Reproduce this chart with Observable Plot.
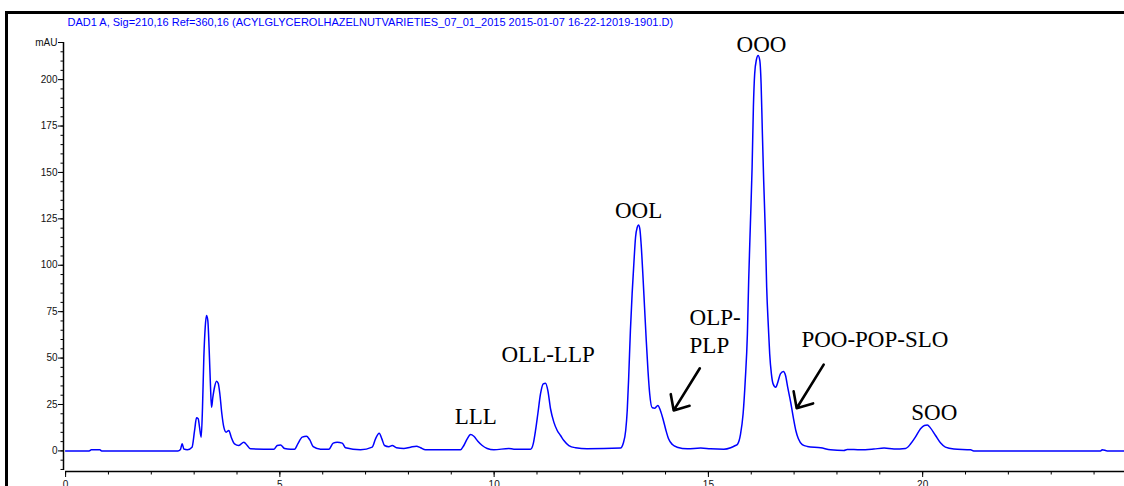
<!DOCTYPE html>
<html>
<head>
<meta charset="utf-8">
<script src="https://cdn.jsdelivr.net/npm/d3@7"></script>
<script src="https://cdn.jsdelivr.net/npm/@observablehq/plot@0.6"></script>
<style>
html, body { margin: 0; padding: 0; background: #fff; overflow: hidden; width: 1124px; height: 486px; }
#chart { position: absolute; left: 0; top: 0; width: 1160px; }
#chart svg { max-width: none !important; width: 1160px; height: 486px; }
#frame { position: absolute; left: 5px; top: 11px; width: 2000px; height: 1000px;
  border-top: 3px solid #000; border-left: 3px solid #000; pointer-events: none; }
</style>
</head>
<body>
<div id="chart"></div>
<div id="frame"></div>
<script>
const title = "DAD1 A, Sig=210,16 Ref=360,16 (ACYLGLYCEROLHAZELNUTVARIETIES_07_01_2015 2015-01-07 16-22-12019-1901.D)";

// retention time (min)
const retentionTime = [
  0, 0.55, 0.60, 0.80, 0.84, 2.62, 2.68, 2.72, 2.76, 2.84, 2.95, 3.01, 3.055, 3.094, 3.125, 3.164,
  3.195, 3.226, 3.258, 3.288, 3.319, 3.351, 3.382, 3.405, 3.436, 3.475, 3.522, 3.561, 3.599, 3.646,
  3.692, 3.747, 3.809, 3.865, 3.942, 4.043, 4.159, 4.238, 4.315, 4.859, 4.938, 5.015, 5.109, 5.249,
  5.342, 5.419, 5.521, 5.622, 5.699, 5.778, 5.949, 6.143, 6.245, 6.338, 6.455, 6.532, 6.882, 7.155,
  7.232, 7.318, 7.380, 7.442, 7.543, 7.622, 7.722, 7.893, 8.049, 8.189, 8.282, 8.399, 9.216, 9.293,
  9.372, 9.449, 9.527, 9.620, 9.722, 9.838, 9.994, 10.343, 10.46, 10.849, 10.912, 10.966, 11.02,
  11.083, 11.146, 11.2, 11.254, 11.316, 11.393, 11.472, 11.55, 11.627, 11.744, 11.9, 12.17, 12.95,
  13.01, 13.07, 13.106, 13.14, 13.18, 13.22, 13.26, 13.30, 13.34, 13.37, 13.40, 13.43, 13.47, 13.51,
  13.55, 13.59, 13.63, 13.69, 13.75, 13.82, 13.88, 13.95, 14.01, 14.07, 14.16, 14.27, 14.51, 14.82,
  15.05, 15.36, 15.52, 15.63, 15.68, 15.75, 15.81, 15.86, 15.91, 15.94, 15.98, 16.02, 16.05, 16.08,
  16.12, 16.16, 16.20, 16.23, 16.26, 16.29, 16.33, 16.36, 16.40, 16.43, 16.47, 16.51, 16.57, 16.62,
  16.68, 16.75, 16.80, 16.85, 16.92, 16.98, 17.04, 17.10, 17.19, 17.31, 17.62, 17.85, 18.16, 18.24,
  18.55, 18.86, 19.10, 19.33, 19.60, 19.72, 19.83, 19.95, 20.04, 20.11, 20.18, 20.30, 20.42, 20.53,
  20.73, 21.12, 21.19, 24.15, 24.19, 24.31, 24.80
];
// absorbance (mAU)
const absorbance = [
  0, 0, 0.6, 0.6, 0, 0, 0.8, 3.8, 1.0, 0.6, 2.0, 11, 17.8, 17.3, 12.8, 7.4,
  23.5, 50.5, 66.6, 72.9, 70.2, 54.1, 34.3, 23.5, 28.9, 34.3, 37.5, 36.4, 30.8, 20.0,
  12.8, 10.1, 11.0, 7.4, 3.8, 2.9, 4.7, 2.9, 1.1, 0.9, 2.9, 3.2, 1.3, 0.9,
  0.9, 3.8, 7.4, 7.9, 5.9, 2.3, 0.9, 0.9, 4.2, 4.7, 4.2, 1.7, 0.6, 2.0,
  6.5, 9.5, 6.5, 2.9, 2.3, 2.9, 1.7, 1.3, 2.0, 2.5, 1.7, 0.6, 0.6, 2.9,
  6.5, 8.8, 7.9, 5.2, 2.9, 1.3, 0.6, 1.3, 0.9, 0.9, 3.8, 11, 20,
  30.8, 36.1, 36.5, 32.5, 22.7, 15.5, 11, 8.3, 5.6, 2.9, 1.7, 1.1, 1.5,
  3.8, 11, 21.8, 39.7, 64.8, 84.6, 100.7, 115.1, 120.5, 121.7, 119.6, 111.5, 95.4, 77.4,
  59.5, 43.3, 30.8, 23.2, 23.0, 24.5, 21.8, 16.4, 11, 6.5, 3.4, 2.0, 1.1, 1.5,
  1.1, 0.9, 1.7, 2.9, 3.6, 9, 20, 38, 63.1, 91.8, 122.3, 152.8, 185.1, 203.1,
  210.7, 213.0, 210.3, 197.7, 170.8, 145.6, 116.9, 88.2, 66.6, 52.3, 41.5, 36.1, 34.3, 37.0,
  41.5, 42.8, 40.6, 34.3, 26.2, 18.2, 11, 6.5, 3.4, 2.4, 1.7, 0.6, 0.2, 0.8,
  0.6, 1.0, 1.5, 1.0, 1.3, 3.8, 7.4, 11.9, 13.7, 14.0, 12.4, 8.3, 4.2, 2.0,
  1.0, 0.6, 0, 0, 0.6, 0, 0
];

// peak annotations (position in data units: time, mAU at text baseline)
const peakNames = ["LLL", "OLL-LLP", "OOL", "OLP-\nPLP", "OOO", "POO-POP-SLO", "SOO"];
const peakLabelTime = [9.57, 11.26, 13.37, 14.56, 16.24, 17.17, 20.27];
const peakLabelMAU = [14.6, 47.8, 125.6, 52.8, 214.8, 55.9, 16.4];
const peakLabelAnchor = ["middle", "middle", "middle", "start", "middle", "start", "middle"];

// arrows
const arrowFromTime = [14.80, 17.69];
const arrowFromMAU = [44.5, 46.5];
const arrowToTime = [14.19, 17.06];
const arrowToMAU = [21.8, 23.0];

// ticks
const yMajorTicks = [0, 25, 50, 75, 100, 125, 150, 175, 200, 220];
const yMinorTicks = d3.range(-10, 221, 5);
const xMajorTicks = [0, 5, 10, 15, 20, 25];
const xMinorTicks = d3.range(0, 26, 1);

const xDomain = [-0.049, 25.55];
const yDomain = [-11.1, 220];

const trace = d3.zip(retentionTime, absorbance).map(([t, v]) => ({t, v}));
const labels = peakNames.map((name, i) => ({name, t: peakLabelTime[i], v: peakLabelMAU[i], anchor: peakLabelAnchor[i]}));
const arrows = arrowFromTime.map((t, i) => ({t1: t, v1: arrowFromMAU[i], t2: arrowToTime[i], v2: arrowToMAU[i]}));

const labelFont = {fontFamily: "Liberation Serif", fontSize: 23, fill: "#000", lineAnchor: "bottom", lineHeight: 1.217};

const chart = Plot.plot({
  width: 1160,
  height: 486,
  marginLeft: 63,
  marginRight: 0,
  marginTop: 42,
  marginBottom: 15,
  style: {fontFamily: "Liberation Sans", fontSize: "10px", background: "transparent", overflow: "visible", maxWidth: "none"},
  x: {domain: xDomain},
  y: {domain: yDomain},
  marks: [
    Plot.axisY({ticks: yMinorTicks, tickSize: 2.5, tickFormat: () => "", label: null}),
    Plot.axisY({ticks: yMajorTicks, tickSize: 5, tickPadding: 1, tickFormat: d => d === 220 ? "mAU" : String(d), label: null, fill: "#111"}),
    Plot.axisX({ticks: xMinorTicks, tickSize: 3.5, tickFormat: () => "", label: null}),
    Plot.axisX({ticks: xMajorTicks, tickSize: 6, tickPadding: 3, label: null, fill: "#111"}),
    Plot.ruleX([xDomain[0]], {y1: -10.5, y2: 220, stroke: "#000", strokeWidth: 1.5}),
    Plot.ruleY([yDomain[0]], {x1: 0, x2: xDomain[1], stroke: "#000", strokeWidth: 1.5}),
    Plot.line(trace, {x: "t", y: "v", stroke: "#0000ff", strokeWidth: 1.5, curve: "monotone-x"}),
    Plot.text(labels.filter(d => d.anchor === "middle"), {x: "t", y: "v", text: "name", textAnchor: "middle", ...labelFont}),
    Plot.text(labels.filter(d => d.anchor === "start"), {x: "t", y: "v", text: "name", textAnchor: "start", ...labelFont}),
    Plot.arrow(arrows, {x1: "t1", y1: "v1", x2: "t2", y2: "v2", stroke: "#000", strokeWidth: 2.6, headLength: 10, headAngle: 84}),
    Plot.text([title], {frameAnchor: "top-left", text: d => d, dx: 4, dy: -17, lineAnchor: "bottom", textAnchor: "start",
      fill: "#0000ff", fontSize: 11, fontFamily: "Liberation Sans", ariaLabel: "title"})
  ]
});

document.getElementById("chart").appendChild(chart);
const titleText = chart.querySelector('g[aria-label="title"] text');
if (titleText) {
  titleText.setAttribute("textLength", "550");
  titleText.setAttribute("lengthAdjust", "spacingAndGlyphs");
}
</script>
</body>
</html>
